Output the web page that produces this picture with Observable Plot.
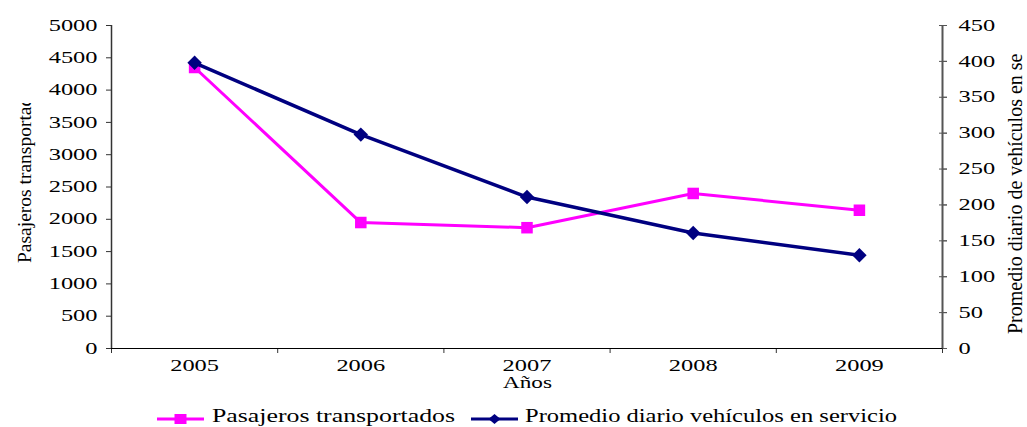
<!DOCTYPE html>
<html><head><meta charset="utf-8">
<script src="https://cdn.jsdelivr.net/npm/d3@7"></script>
<script src="https://cdn.jsdelivr.net/npm/@observablehq/plot@0.6"></script>
<style>body{margin:0;background:#fff} svg{display:block}</style>
</head><body><div id="chart"></div>
<script>
const years = ["2005", "2006", "2007", "2008", "2009"];
const pasajeros = [4350, 1950, 1870, 2400, 2140];
const vehiculos = [398, 298, 211, 161, 130];
const leftTicks = [0, 500, 1000, 1500, 2000, 2500, 3000, 3500, 4000, 4500, 5000];
const rightTicks = [0, 50, 100, 150, 200, 250, 300, 350, 400, 450];
const seriesNames = ["Pasajeros transportados", "Promedio diario vehículos en servicio"];
const leftTitle = "Pasajeros transportados";
const rightTitle = "Promedio diario de vehículos en servicio";
const xTitle = "Años";

const leftMax = 5000, rightMax = 450, k = leftMax / rightMax;
const dataP = years.map((y, i) => ({i, year: y, v: pasajeros[i]}));
const dataV = years.map((y, i) => ({i, year: y, v: vehiculos[i] * k}));
const bounds = d3.range(-0.5, years.length, 1);
const MAG = "#FF00FF", NAVY = "#000080";
const FONT = "Liberation Serif";

const chart = Plot.plot({
  width: 1027, height: 427,
  marginLeft: 111, marginRight: 85, marginTop: 25, marginBottom: 79,
  style: {fontFamily: FONT, fontSize: "16px", color: "#000", background: "#fff"},
  x: {type: "linear", domain: [-0.5, years.length - 0.5]},
  y: {domain: [0, leftMax]},
  marks: [
    Plot.axisY({ticks: leftTicks, tickFormat: d => String(d), tickSize: 5, tickPadding: 9, label: null,
      fontFamily: FONT, fontSize: 16, stroke: "#333"}),
    Plot.axisY({anchor: "right", ticks: rightTicks.map(v => v * k), tickFormat: d => String(Math.round(d / k)),
      tickSize: 4, tickPadding: 12, label: null, fontFamily: FONT, fontSize: 16, stroke: "#555"}),
    Plot.axisY({anchor: "right", ticks: rightTicks.map(v => v * k), tickFormat: () => "",
      tickSize: 8, dx: -4, label: null, stroke: "#555"}),
    Plot.axisX({ticks: d3.range(years.length), tickFormat: i => years[i], tickSize: 0, tickPadding: 11,
      label: null, fontFamily: FONT, fontSize: 16}),
    Plot.axisX({ticks: bounds, tickFormat: () => "", tickSize: 5, label: null, stroke: "#333"}),
    Plot.ruleX([-0.5], {stroke: "#333", strokeWidth: 1.5}),
    Plot.ruleX([years.length - 0.5], {stroke: "#555", strokeWidth: 2}),
    Plot.ruleY([0], {stroke: "#000", strokeWidth: 1.2}),
    Plot.line(dataP, {x: "i", y: "v", stroke: MAG, strokeWidth: 3}),
    Plot.dot(dataP, {x: "i", y: "v", symbol: "square", fill: MAG, stroke: null, r: 6.5}),
    Plot.line(dataV, {x: "i", y: "v", stroke: NAVY, strokeWidth: 3.5}),
    Plot.dot(dataV, {x: "i", y: "v", symbol: "diamond2", fill: NAVY, stroke: null, r: 6.5})
  ]
});
document.getElementById("chart").appendChild(chart);

const svg = d3.select(chart);
// widen tick labels like the reference (stretched glyphs)
svg.selectAll('g[aria-label="y-axis tick label"] text, g[aria-label="x-axis tick label"] text')
  .each(function() {
    const t = this.textContent;
    if (t) d3.select(this).attr("textLength", t.length * 12.2).attr("lengthAdjust", "spacingAndGlyphs");
  });

// x axis title
svg.append("text").attr("x", 527.5).attr("y", 388).attr("text-anchor", "middle")
  .style("font-family", FONT).style("font-size", "16px").attr("fill", "#000")
  .attr("textLength", 49).attr("lengthAdjust", "spacingAndGlyphs").text(xTitle);

const defs = svg.append("defs");
defs.append("clipPath").attr("id", "clipL").append("rect").attr("x", 0).attr("y", 103).attr("width", 60).attr("height", 300);
defs.append("clipPath").attr("id", "clipR").append("rect").attr("x", 990).attr("y", 54).attr("width", 37).attr("height", 360);

function title(t, x, y, size, clip) {
  svg.append("g").attr("clip-path", `url(#${clip})`).append("text")
    .attr("transform", `translate(${x},${y}) rotate(-90)`)
    .attr("text-anchor", "start")
    .attr("dominant-baseline", "central")
    .style("font-family", FONT).style("font-size", size + "px").attr("fill", "#000")
    .text(t);
}
title(leftTitle, 24, 263, 19.5, "clipL");
title(rightTitle, 1015, 334, 20, "clipR");

// legend
const lg = svg.append("g").style("font-family", FONT).style("font-size", "19px");
const entries = [
  {x0: 157, x1: 204, tx: 212, tw: 243, color: MAG, sym: "square"},
  {x0: 471, x1: 518, tx: 525, tw: 372, color: NAVY, sym: "diamond"}
];
entries.forEach((e, j) => {
  const yc = 419;
  lg.append("line").attr("x1", e.x0).attr("x2", e.x1).attr("y1", yc).attr("y2", yc)
    .attr("stroke", e.color).attr("stroke-width", 3);
  const cx = (e.x0 + e.x1) / 2;
  if (e.sym === "square") {
    lg.append("rect").attr("x", cx - 6).attr("y", yc - 5).attr("width", 12).attr("height", 10).attr("fill", e.color);
  } else {
    lg.append("path").attr("d", `M${cx - 6},${yc}L${cx},${yc - 5}L${cx + 6},${yc}L${cx},${yc + 5}Z`).attr("fill", e.color);
  }
  lg.append("text").attr("x", e.tx).attr("y", 422).attr("text-anchor", "start")
    .attr("fill", "#000").attr("textLength", e.tw).attr("lengthAdjust", "spacingAndGlyphs").text(seriesNames[j]);
});
</script>
</body></html>
